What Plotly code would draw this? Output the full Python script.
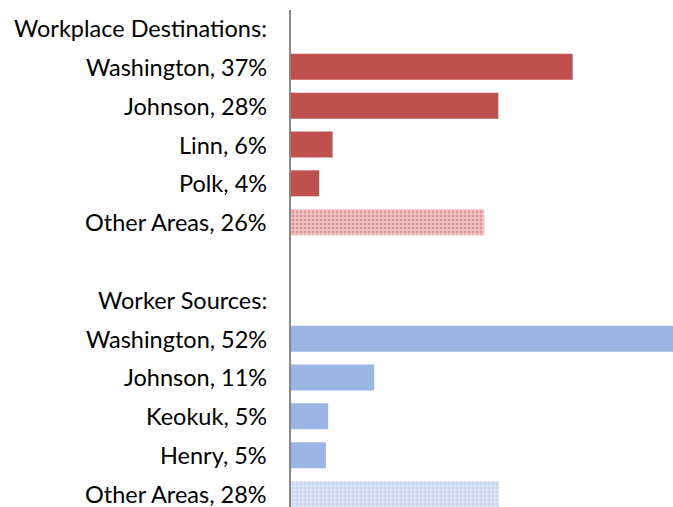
import plotly.graph_objects as go

# Data
labels = ["Workplace Destinations:", "Washington, 37%", "Johnson, 28%", "Linn, 6%", "Polk, 4%",
          "Other Areas, 26%", "", "Worker Sources:", "Washington, 52%", "Johnson, 11%",
          "Keokuk, 5%", "Henry, 5%", "Other Areas, 28%"]
dest_values = [37.9, 27.9, 5.6, 3.8]
dest_other = 26.0
src_values = [52.0, 11.2, 5.0, 4.7]
src_other = 28.0

dest_y = [1, 2, 3, 4]
src_y = [8, 9, 10, 11]

RED = "#C0504D"
BLUE = "#9BB5E4"

fig = go.Figure()
fig.add_trace(go.Bar(y=dest_y, x=dest_values, orientation="h",
                     marker=dict(color=RED, line=dict(width=0))))
fig.add_trace(go.Bar(y=[5], x=[dest_other], orientation="h",
                     marker=dict(color="#EBB9B8", line=dict(width=0),
                                 pattern=dict(shape=".", fgcolor="#CC6664", bgcolor="#F0C6C5",
                                              size=4, solidity=0.4, fillmode="overlay"))))
fig.add_trace(go.Bar(y=src_y, x=src_values, orientation="h",
                     marker=dict(color=BLUE, line=dict(width=0))))
fig.add_trace(go.Bar(y=[12], x=[src_other], orientation="h",
                     marker=dict(color="#D3DFF5", line=dict(width=0),
                                 pattern=dict(shape=".", fgcolor="#A9C0E9", bgcolor="#DCE6F7",
                                              size=4, solidity=0.4, fillmode="overlay"))))

for i, lab in enumerate(labels):
    if lab:
        fig.add_annotation(x=0, y=i, xref="paper", yref="y", text=lab, showarrow=False,
                           xanchor="right", yanchor="middle", xshift=-22,
                           font=dict(family="Lato", size=23.5, color="#000000"))

fig.update_layout(
    width=673, height=507,
    margin=dict(l=291, r=0, t=10, b=0),
    paper_bgcolor="white", plot_bgcolor="white",
    showlegend=False, barmode="overlay", bargap=0.33,
    font=dict(family="Lato", size=23.5, color="#000000"),
)
fig.update_xaxes(range=[0, 51.4], visible=False, showgrid=False, zeroline=False)
fig.update_yaxes(range=[12.335, -0.4636], showticklabels=False,
                 showgrid=False, zeroline=False, showline=True, linecolor="#888888",
                 linewidth=2, ticks="")

fig.write_html("out.html", config={"displayModeBar": False},
               post_script="document.body.style.margin='0';")
